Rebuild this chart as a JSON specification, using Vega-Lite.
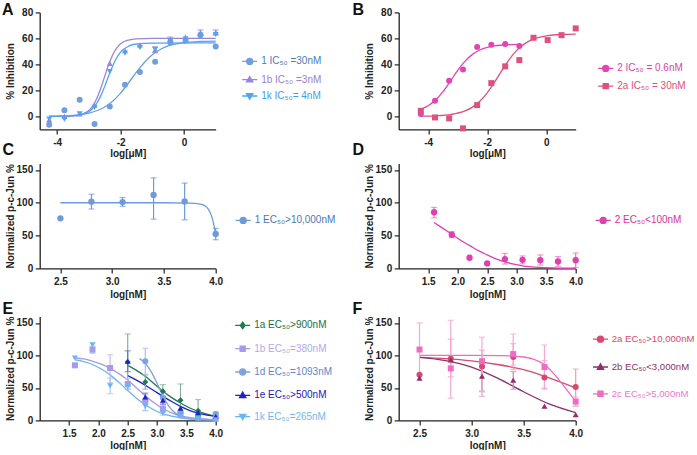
{
"$schema": "https://vega.github.io/schema/vega-lite/v6.json",
"padding": {"left": 1.7, "top": 1.4, "right": 0, "bottom": 0},
"config": {
 "font": "Liberation Sans",
 "view": {"stroke": null},
 "axis": {"grid": false, "domainColor": "#222", "domainWidth": 1.3, "tickColor": "#222", "tickWidth": 1.2, "tickSize": 4.5, "labelFont": "Liberation Sans", "labelFontSize": 10, "labelFontWeight": "bold", "labelColor": "#222", "titleFont": "Liberation Sans", "titleFontSize": 10, "titleFontWeight": "bold", "titleColor": "#222", "labelPadding": 2.5, "labelFlush": false, "labelOverlap": false},
 "axisX": {"labelPadding": 4},
 "legend": {"padding": 0, "labelOffset": 6.5, "symbolSize": 36, "symbolStrokeWidth": 1.3, "labelFont": "Liberation Sans", "labelFontSize": 10, "orient": "none"},
 "title": {"anchor": "start", "frame": "group", "fontSize": 16, "fontWeight": "bold", "font": "Liberation Sans", "offset": 0, "baseline": "alphabetic", "color": "#111"}
},
"datasets": {
 "A_pts": [
  {"x": -4.25, "y": -6.5, "s": "1 IC₅₀ =30nM", "sh": "a"}, {"x": -3.77, "y": 4.8, "s": "1 IC₅₀ =30nM", "sh": "a"}, {"x": -3.29, "y": 12.8, "s": "1 IC₅₀ =30nM", "sh": "a"}, {"x": -2.82, "y": -5.9, "s": "1 IC₅₀ =30nM", "sh": "a"}, {"x": -2.34, "y": 7.7, "s": "1 IC₅₀ =30nM", "sh": "a"}, {"x": -1.86, "y": 24.3, "s": "1 IC₅₀ =30nM", "sh": "a"}, {"x": -1.39, "y": 34.1, "s": "1 IC₅₀ =30nM", "sh": "a"}, {"x": -0.91, "y": 42, "s": "1 IC₅₀ =30nM", "sh": "a"}, {"x": -0.43, "y": 56.9, "s": "1 IC₅₀ =30nM", "sh": "a"}, {"x": 0.05, "y": 58.2, "s": "1 IC₅₀ =30nM", "sh": "a"}, {"x": 0.52, "y": 62.5, "s": "1 IC₅₀ =30nM", "sh": "a"}, {"x": 1.0, "y": 53.8, "s": "1 IC₅₀ =30nM", "sh": "a"},
  {"x": -4.25, "y": -2.6, "s": "1b IC₅₀ =3nM", "sh": "b"}, {"x": -3.77, "y": 0, "s": "1b IC₅₀ =3nM", "sh": "b"}, {"x": -3.29, "y": 2, "s": "1b IC₅₀ =3nM", "sh": "b"}, {"x": -2.82, "y": 8.7, "s": "1b IC₅₀ =3nM", "sh": "b"}, {"x": -2.34, "y": 40.8, "s": "1b IC₅₀ =3nM", "sh": "b"}, {"x": -1.86, "y": 50.5, "s": "1b IC₅₀ =3nM", "sh": "b"}, {"x": -1.39, "y": 55, "s": "1b IC₅₀ =3nM", "sh": "b"}, {"x": -0.91, "y": 51.2, "s": "1b IC₅₀ =3nM", "sh": "b"}, {"x": -0.43, "y": 59.5, "s": "1b IC₅₀ =3nM", "sh": "b"}, {"x": 0.05, "y": 61, "s": "1b IC₅₀ =3nM", "sh": "b"}, {"x": 0.52, "y": 64.5, "s": "1b IC₅₀ =3nM", "sh": "b"}, {"x": 1.0, "y": 64.6, "s": "1b IC₅₀ =3nM", "sh": "b"},
  {"x": -4.25, "y": -2, "s": "1k IC₅₀= 4nM", "sh": "c"}, {"x": -3.77, "y": -2.2, "s": "1k IC₅₀= 4nM", "sh": "c"}, {"x": -3.29, "y": 2, "s": "1k IC₅₀= 4nM", "sh": "c"}, {"x": -2.82, "y": 7, "s": "1k IC₅₀= 4nM", "sh": "c"}, {"x": -2.34, "y": 34.4, "s": "1k IC₅₀= 4nM", "sh": "c"}, {"x": -1.86, "y": 48.7, "s": "1k IC₅₀= 4nM", "sh": "c"}, {"x": -1.39, "y": 53, "s": "1k IC₅₀= 4nM", "sh": "c"}, {"x": -0.91, "y": 51.5, "s": "1k IC₅₀= 4nM", "sh": "c"}, {"x": -0.43, "y": 58, "s": "1k IC₅₀= 4nM", "sh": "c"}, {"x": 0.05, "y": 59.5, "s": "1k IC₅₀= 4nM", "sh": "c"}, {"x": 0.52, "y": 62.5, "s": "1k IC₅₀= 4nM", "sh": "c"}, {"x": 1.0, "y": 63, "s": "1k IC₅₀= 4nM", "sh": "c"}
 ],
 "A_curve": [
  {"x": -4.25, "y": 0.15, "s": "1 IC₅₀ =30nM"}, {"x": -4, "y": 0.26, "s": "1 IC₅₀ =30nM"}, {"x": -3.5, "y": 0.81, "s": "1 IC₅₀ =30nM"}, {"x": -3, "y": 2.48, "s": "1 IC₅₀ =30nM"}, {"x": -2.5, "y": 7.19, "s": "1 IC₅₀ =30nM"}, {"x": -2.25, "y": 11.6, "s": "1 IC₅₀ =30nM"}, {"x": -2, "y": 17.9, "s": "1 IC₅₀ =30nM"}, {"x": -1.75, "y": 25.7, "s": "1 IC₅₀ =30nM"}, {"x": -1.5, "y": 34, "s": "1 IC₅₀ =30nM"}, {"x": -1.25, "y": 41.5, "s": "1 IC₅₀ =30nM"}, {"x": -1, "y": 47.4, "s": "1 IC₅₀ =30nM"}, {"x": -0.75, "y": 51.5, "s": "1 IC₅₀ =30nM"}, {"x": -0.5, "y": 54.2, "s": "1 IC₅₀ =30nM"}, {"x": 0, "y": 56.7, "s": "1 IC₅₀ =30nM"}, {"x": 0.5, "y": 57.6, "s": "1 IC₅₀ =30nM"}, {"x": 1, "y": 57.9, "s": "1 IC₅₀ =30nM"},
  {"x": -4.25, "y": 0, "s": "1b IC₅₀ =3nM"}, {"x": -3.75, "y": 0.11, "s": "1b IC₅₀ =3nM"}, {"x": -3.5, "y": 0.39, "s": "1b IC₅₀ =3nM"}, {"x": -3.25, "y": 1.38, "s": "1b IC₅₀ =3nM"}, {"x": -3, "y": 4.63, "s": "1b IC₅₀ =3nM"}, {"x": -2.875, "y": 8.16, "s": "1b IC₅₀ =3nM"}, {"x": -2.75, "y": 13.7, "s": "1b IC₅₀ =3nM"}, {"x": -2.625, "y": 21.5, "s": "1b IC₅₀ =3nM"}, {"x": -2.5, "y": 30.8, "s": "1b IC₅₀ =3nM"}, {"x": -2.375, "y": 39.9, "s": "1b IC₅₀ =3nM"}, {"x": -2.25, "y": 47.3, "s": "1b IC₅₀ =3nM"}, {"x": -2.125, "y": 52.5, "s": "1b IC₅₀ =3nM"}, {"x": -2, "y": 55.8, "s": "1b IC₅₀ =3nM"}, {"x": -1.75, "y": 58.7, "s": "1b IC₅₀ =3nM"}, {"x": -1.5, "y": 59.6, "s": "1b IC₅₀ =3nM"}, {"x": -1, "y": 60, "s": "1b IC₅₀ =3nM"}, {"x": 1, "y": 60, "s": "1b IC₅₀ =3nM"},
  {"x": -4.25, "y": 0, "s": "1k IC₅₀= 4nM"}, {"x": -3.5, "y": 0.39, "s": "1k IC₅₀= 4nM"}, {"x": -3.25, "y": 1.21, "s": "1k IC₅₀= 4nM"}, {"x": -3, "y": 3.66, "s": "1k IC₅₀= 4nM"}, {"x": -2.875, "y": 6.19, "s": "1k IC₅₀= 4nM"}, {"x": -2.75, "y": 10.1, "s": "1k IC₅₀= 4nM"}, {"x": -2.625, "y": 15.8, "s": "1k IC₅₀= 4nM"}, {"x": -2.5, "y": 23.1, "s": "1k IC₅₀= 4nM"}, {"x": -2.375, "y": 31.2, "s": "1k IC₅₀= 4nM"}, {"x": -2.25, "y": 38.8, "s": "1k IC₅₀= 4nM"}, {"x": -2.125, "y": 44.9, "s": "1k IC₅₀= 4nM"}, {"x": -2, "y": 49.4, "s": "1k IC₅₀= 4nM"}, {"x": -1.75, "y": 54, "s": "1k IC₅₀= 4nM"}, {"x": -1.5, "y": 55.7, "s": "1k IC₅₀= 4nM"}, {"x": -1, "y": 56.4, "s": "1k IC₅₀= 4nM"}, {"x": 1, "y": 56.5, "s": "1k IC₅₀= 4nM"}
 ],
 "A_err": [
  {"x": -0.91, "y": 49, "y2": 53.5, "s": "1b IC₅₀ =3nM"}, {"x": -0.43, "y": 58, "y2": 61, "s": "1b IC₅₀ =3nM"}, {"x": 0.52, "y": 62.5, "y2": 66.5, "s": "1b IC₅₀ =3nM"}, {"x": 1.0, "y": 62.5, "y2": 66.5, "s": "1b IC₅₀ =3nM"}
 ],
 "B_pts": [
  {"x": -4.25, "y": 1.8, "s": "2 IC₅₀ = 0.6nM", "sh": "a"}, {"x": -3.77, "y": 12, "s": "2 IC₅₀ = 0.6nM", "sh": "a"}, {"x": -3.29, "y": 27.4, "s": "2 IC₅₀ = 0.6nM", "sh": "a"}, {"x": -2.82, "y": 36.1, "s": "2 IC₅₀ = 0.6nM", "sh": "a"}, {"x": -2.34, "y": 53.3, "s": "2 IC₅₀ = 0.6nM", "sh": "a"}, {"x": -1.86, "y": 55.2, "s": "2 IC₅₀ = 0.6nM", "sh": "a"}, {"x": -1.39, "y": 55.6, "s": "2 IC₅₀ = 0.6nM", "sh": "a"}, {"x": -0.91, "y": 54.1, "s": "2 IC₅₀ = 0.6nM", "sh": "a"},
  {"x": -4.25, "y": 4.3, "s": "2a IC₅₀ = 30nM", "sh": "b"}, {"x": -3.77, "y": -0.8, "s": "2a IC₅₀ = 30nM", "sh": "b"}, {"x": -3.29, "y": -1.5, "s": "2a IC₅₀ = 30nM", "sh": "b"}, {"x": -2.82, "y": -9.2, "s": "2a IC₅₀ = 30nM", "sh": "b"}, {"x": -2.34, "y": 8.7, "s": "2a IC₅₀ = 30nM", "sh": "b"}, {"x": -1.86, "y": 25.6, "s": "2a IC₅₀ = 30nM", "sh": "b"}, {"x": -1.39, "y": 38.5, "s": "2a IC₅₀ = 30nM", "sh": "b"}, {"x": -0.91, "y": 43.3, "s": "2a IC₅₀ = 30nM", "sh": "b"}, {"x": -0.43, "y": 60.5, "s": "2a IC₅₀ = 30nM", "sh": "b"}, {"x": 0.05, "y": 58.7, "s": "2a IC₅₀ = 30nM", "sh": "b"}, {"x": 0.52, "y": 62.5, "s": "2a IC₅₀ = 30nM", "sh": "b"}, {"x": 1.0, "y": 67.7, "s": "2a IC₅₀ = 30nM", "sh": "b"}
 ],
 "B_curve": [
  {"x": -4.25, "y": 5.5, "s": "2 IC₅₀ = 0.6nM"}, {"x": -4, "y": 8.2, "s": "2 IC₅₀ = 0.6nM"}, {"x": -3.75, "y": 12.6, "s": "2 IC₅₀ = 0.6nM"}, {"x": -3.5, "y": 19, "s": "2 IC₅₀ = 0.6nM"}, {"x": -3.25, "y": 27.1, "s": "2 IC₅₀ = 0.6nM"}, {"x": -3, "y": 35.4, "s": "2 IC₅₀ = 0.6nM"}, {"x": -2.75, "y": 42.5, "s": "2 IC₅₀ = 0.6nM"}, {"x": -2.5, "y": 47.7, "s": "2 IC₅₀ = 0.6nM"}, {"x": -2.25, "y": 51.1, "s": "2 IC₅₀ = 0.6nM"}, {"x": -2, "y": 53.1, "s": "2 IC₅₀ = 0.6nM"}, {"x": -1.75, "y": 54.2, "s": "2 IC₅₀ = 0.6nM"}, {"x": -1.5, "y": 54.8, "s": "2 IC₅₀ = 0.6nM"}, {"x": -1.25, "y": 55.2, "s": "2 IC₅₀ = 0.6nM"}, {"x": -0.9, "y": 55.4, "s": "2 IC₅₀ = 0.6nM"},
  {"x": -4.25, "y": 0.14, "s": "2a IC₅₀ = 30nM"}, {"x": -3.75, "y": 0.45, "s": "2a IC₅₀ = 30nM"}, {"x": -3.25, "y": 1.39, "s": "2a IC₅₀ = 30nM"}, {"x": -2.75, "y": 4.2, "s": "2a IC₅₀ = 30nM"}, {"x": -2.5, "y": 7.1, "s": "2a IC₅₀ = 30nM"}, {"x": -2.25, "y": 11.6, "s": "2a IC₅₀ = 30nM"}, {"x": -2, "y": 18.1, "s": "2a IC₅₀ = 30nM"}, {"x": -1.75, "y": 26.3, "s": "2a IC₅₀ = 30nM"}, {"x": -1.5, "y": 35.4, "s": "2a IC₅₀ = 30nM"}, {"x": -1.25, "y": 43.9, "s": "2a IC₅₀ = 30nM"}, {"x": -1, "y": 50.8, "s": "2a IC₅₀ = 30nM"}, {"x": -0.75, "y": 55.6, "s": "2a IC₅₀ = 30nM"}, {"x": -0.5, "y": 58.8, "s": "2a IC₅₀ = 30nM"}, {"x": -0.25, "y": 60.8, "s": "2a IC₅₀ = 30nM"}, {"x": 0, "y": 61.9, "s": "2a IC₅₀ = 30nM"}, {"x": 0.5, "y": 63, "s": "2a IC₅₀ = 30nM"}, {"x": 1, "y": 63.3, "s": "2a IC₅₀ = 30nM"}
 ],
 "C_pts": [
  {"x": 2.5, "y": 76.3, "s": "1 EC₅₀>10,000nM"}, {"x": 2.8, "y": 101.7, "s": "1 EC₅₀>10,000nM"}, {"x": 3.1, "y": 101, "s": "1 EC₅₀>10,000nM"}, {"x": 3.4, "y": 112, "s": "1 EC₅₀>10,000nM"}, {"x": 3.7, "y": 102, "s": "1 EC₅₀>10,000nM"}, {"x": 4.0, "y": 52.4, "s": "1 EC₅₀>10,000nM"}
 ],
 "C_err": [
  {"x": 2.8, "y": 90.5, "y2": 113, "s": "1 EC₅₀>10,000nM"}, {"x": 3.1, "y": 94.6, "y2": 108, "s": "1 EC₅₀>10,000nM"}, {"x": 3.4, "y": 75, "y2": 138, "s": "1 EC₅₀>10,000nM"}, {"x": 3.7, "y": 74, "y2": 130, "s": "1 EC₅₀>10,000nM"}, {"x": 4.0, "y": 43.7, "y2": 61, "s": "1 EC₅₀>10,000nM"}
 ],
 "C_curve": [
  {"x": 2.5, "y": 100, "s": "1 EC₅₀>10,000nM"}, {"x": 3.0, "y": 100, "s": "1 EC₅₀>10,000nM"}, {"x": 3.5, "y": 100, "s": "1 EC₅₀>10,000nM"}, {"x": 3.75, "y": 99.6, "s": "1 EC₅₀>10,000nM"}, {"x": 3.85, "y": 98, "s": "1 EC₅₀>10,000nM"}, {"x": 3.9, "y": 95, "s": "1 EC₅₀>10,000nM"}, {"x": 3.93, "y": 90, "s": "1 EC₅₀>10,000nM"}, {"x": 3.96, "y": 80, "s": "1 EC₅₀>10,000nM"}, {"x": 3.98, "y": 68, "s": "1 EC₅₀>10,000nM"}, {"x": 4.0, "y": 52, "s": "1 EC₅₀>10,000nM"}
 ],
 "D_pts": [
  {"x": 1.6, "y": 85.5, "s": "2 EC₅₀<100nM"}, {"x": 1.9, "y": 51.3, "s": "2 EC₅₀<100nM"}, {"x": 2.2, "y": 16.2, "s": "2 EC₅₀<100nM"}, {"x": 2.5, "y": 7.6, "s": "2 EC₅₀<100nM"}, {"x": 2.8, "y": 14.2, "s": "2 EC₅₀<100nM"}, {"x": 3.1, "y": 13, "s": "2 EC₅₀<100nM"}, {"x": 3.4, "y": 12.5, "s": "2 EC₅₀<100nM"}, {"x": 3.7, "y": 10.5, "s": "2 EC₅₀<100nM"}, {"x": 4.0, "y": 12.5, "s": "2 EC₅₀<100nM"}
 ],
 "D_err": [
  {"x": 1.6, "y": 77, "y2": 93, "s": "2 EC₅₀<100nM"}, {"x": 1.9, "y": 47, "y2": 56, "s": "2 EC₅₀<100nM"}, {"x": 2.8, "y": 6.6, "y2": 22.9, "s": "2 EC₅₀<100nM"}, {"x": 3.1, "y": 7, "y2": 19, "s": "2 EC₅₀<100nM"}, {"x": 3.4, "y": 5, "y2": 20.5, "s": "2 EC₅₀<100nM"}, {"x": 3.7, "y": 3, "y2": 18, "s": "2 EC₅₀<100nM"}, {"x": 4.0, "y": 1.5, "y2": 23.5, "s": "2 EC₅₀<100nM"}
 ],
 "D_curve": [
  {"x": 1.6, "y": 70, "s": "2 EC₅₀<100nM"}, {"x": 1.75, "y": 61, "s": "2 EC₅₀<100nM"}, {"x": 1.9, "y": 52, "s": "2 EC₅₀<100nM"}, {"x": 2.05, "y": 43, "s": "2 EC₅₀<100nM"}, {"x": 2.2, "y": 35, "s": "2 EC₅₀<100nM"}, {"x": 2.35, "y": 27, "s": "2 EC₅₀<100nM"}, {"x": 2.5, "y": 20.5, "s": "2 EC₅₀<100nM"}, {"x": 2.65, "y": 14.5, "s": "2 EC₅₀<100nM"}, {"x": 2.8, "y": 10, "s": "2 EC₅₀<100nM"}, {"x": 2.95, "y": 6.5, "s": "2 EC₅₀<100nM"}, {"x": 3.1, "y": 4, "s": "2 EC₅₀<100nM"}, {"x": 3.4, "y": 1.5, "s": "2 EC₅₀<100nM"}, {"x": 3.7, "y": 0.5, "s": "2 EC₅₀<100nM"}, {"x": 4.0, "y": 0.2, "s": "2 EC₅₀<100nM"}
 ],
 "E_pts": [
  {"x": 2.5, "y": 90, "s": "1a EC₅₀>900nM", "sh": "a"}, {"x": 2.8, "y": 59, "s": "1a EC₅₀>900nM", "sh": "a"}, {"x": 3.1, "y": 45, "s": "1a EC₅₀>900nM", "sh": "a"}, {"x": 3.4, "y": 31, "s": "1a EC₅₀>900nM", "sh": "a"}, {"x": 3.7, "y": 15, "s": "1a EC₅₀>900nM", "sh": "a"}, {"x": 4.0, "y": 8, "s": "1a EC₅₀>900nM", "sh": "a"},
  {"x": 1.6, "y": 84.7, "s": "1b EC₅₀=380nM", "sh": "b"}, {"x": 1.9, "y": 108.8, "s": "1b EC₅₀=380nM", "sh": "b"}, {"x": 2.2, "y": 80.6, "s": "1b EC₅₀=380nM", "sh": "b"}, {"x": 2.5, "y": 56, "s": "1b EC₅₀=380nM", "sh": "b"}, {"x": 2.8, "y": 29.3, "s": "1b EC₅₀=380nM", "sh": "b"}, {"x": 3.1, "y": 17.9, "s": "1b EC₅₀=380nM", "sh": "b"}, {"x": 3.4, "y": 8.7, "s": "1b EC₅₀=380nM", "sh": "b"}, {"x": 3.7, "y": 6, "s": "1b EC₅₀=380nM", "sh": "b"}, {"x": 4.0, "y": 2.5, "s": "1b EC₅₀=380nM", "sh": "b"},
  {"x": 2.8, "y": 91, "s": "1d EC₅₀=1093nM", "sh": "c"}, {"x": 3.1, "y": 35, "s": "1d EC₅₀=1093nM", "sh": "c"}, {"x": 3.4, "y": 12, "s": "1d EC₅₀=1093nM", "sh": "c"}, {"x": 3.7, "y": 6, "s": "1d EC₅₀=1093nM", "sh": "c"}, {"x": 4.0, "y": 10, "s": "1d EC₅₀=1093nM", "sh": "c"},
  {"x": 2.5, "y": 91, "s": "1e EC₅₀>500nM", "sh": "d"}, {"x": 2.8, "y": 36, "s": "1e EC₅₀>500nM", "sh": "d"}, {"x": 3.1, "y": 31, "s": "1e EC₅₀>500nM", "sh": "d"}, {"x": 3.4, "y": 19, "s": "1e EC₅₀>500nM", "sh": "d"}, {"x": 3.7, "y": 12, "s": "1e EC₅₀>500nM", "sh": "d"}, {"x": 4.0, "y": 6, "s": "1e EC₅₀>500nM", "sh": "d"},
  {"x": 1.6, "y": 96, "s": "1k EC₅₀=265nM", "sh": "e"}, {"x": 1.9, "y": 116, "s": "1k EC₅₀=265nM", "sh": "e"}, {"x": 2.2, "y": 53, "s": "1k EC₅₀=265nM", "sh": "e"}, {"x": 2.5, "y": 52, "s": "1k EC₅₀=265nM", "sh": "e"}, {"x": 2.8, "y": 21.6, "s": "1k EC₅₀=265nM", "sh": "e"}, {"x": 3.1, "y": 11.2, "s": "1k EC₅₀=265nM", "sh": "e"}, {"x": 3.4, "y": 6, "s": "1k EC₅₀=265nM", "sh": "e"}, {"x": 3.7, "y": 2.6, "s": "1k EC₅₀=265nM", "sh": "e"}, {"x": 4.0, "y": 1, "s": "1k EC₅₀=265nM", "sh": "e"}
 ],
 "E_err": [
  {"x": 2.5, "y": 48, "y2": 133, "s": "1a EC₅₀>900nM"}, {"x": 2.8, "y": 48, "y2": 70, "s": "1a EC₅₀>900nM"}, {"x": 3.1, "y": 35, "y2": 55, "s": "1a EC₅₀>900nM"}, {"x": 3.4, "y": 6, "y2": 56, "s": "1a EC₅₀>900nM"}, {"x": 3.7, "y": 0, "y2": 32, "s": "1a EC₅₀>900nM"}, {"x": 4.0, "y": 4, "y2": 12, "s": "1a EC₅₀>900nM"},
  {"x": 1.6, "y": 82, "y2": 87, "s": "1b EC₅₀=380nM"}, {"x": 1.9, "y": 103, "y2": 114, "s": "1b EC₅₀=380nM"}, {"x": 2.2, "y": 58, "y2": 101, "s": "1b EC₅₀=380nM"}, {"x": 2.5, "y": 48, "y2": 64, "s": "1b EC₅₀=380nM"}, {"x": 2.8, "y": 15, "y2": 40, "s": "1b EC₅₀=380nM"}, {"x": 3.1, "y": 12, "y2": 24, "s": "1b EC₅₀=380nM"}, {"x": 3.4, "y": 4, "y2": 13, "s": "1b EC₅₀=380nM"},
  {"x": 2.8, "y": 70, "y2": 111, "s": "1d EC₅₀=1093nM"}, {"x": 3.1, "y": 25, "y2": 45, "s": "1d EC₅₀=1093nM"}, {"x": 4.0, "y": 6, "y2": 13, "s": "1d EC₅₀=1093nM"},
  {"x": 2.5, "y": 75, "y2": 107, "s": "1e EC₅₀>500nM"}, {"x": 2.8, "y": 30, "y2": 42, "s": "1e EC₅₀>500nM"}, {"x": 3.1, "y": 25, "y2": 37, "s": "1e EC₅₀>500nM"},
  {"x": 1.9, "y": 112, "y2": 120, "s": "1k EC₅₀=265nM"}, {"x": 2.2, "y": 41, "y2": 65, "s": "1k EC₅₀=265nM"}, {"x": 2.8, "y": 15, "y2": 28, "s": "1k EC₅₀=265nM"}, {"x": 3.1, "y": 8, "y2": 15, "s": "1k EC₅₀=265nM"}
 ],
 "E_curve": [
  {"x": 2.5, "y": 84.7, "s": "1a EC₅₀>900nM"}, {"x": 2.65, "y": 77, "s": "1a EC₅₀>900nM"}, {"x": 2.8, "y": 67.8, "s": "1a EC₅₀>900nM"}, {"x": 2.95, "y": 56.5, "s": "1a EC₅₀>900nM"}, {"x": 3.1, "y": 44.7, "s": "1a EC₅₀>900nM"}, {"x": 3.25, "y": 35, "s": "1a EC₅₀>900nM"}, {"x": 3.4, "y": 26.7, "s": "1a EC₅₀>900nM"}, {"x": 3.55, "y": 19.5, "s": "1a EC₅₀>900nM"}, {"x": 3.7, "y": 13.9, "s": "1a EC₅₀>900nM"}, {"x": 3.85, "y": 9.5, "s": "1a EC₅₀>900nM"}, {"x": 4.0, "y": 6.5, "s": "1a EC₅₀>900nM"},
  {"x": 1.6, "y": 96, "s": "1b EC₅₀=380nM"}, {"x": 1.75, "y": 94.5, "s": "1b EC₅₀=380nM"}, {"x": 1.9, "y": 91, "s": "1b EC₅₀=380nM"}, {"x": 2.05, "y": 86.5, "s": "1b EC₅₀=380nM"}, {"x": 2.2, "y": 80, "s": "1b EC₅₀=380nM"}, {"x": 2.35, "y": 72, "s": "1b EC₅₀=380nM"}, {"x": 2.5, "y": 62, "s": "1b EC₅₀=380nM"}, {"x": 2.65, "y": 50, "s": "1b EC₅₀=380nM"}, {"x": 2.8, "y": 38, "s": "1b EC₅₀=380nM"}, {"x": 2.95, "y": 27, "s": "1b EC₅₀=380nM"}, {"x": 3.1, "y": 18, "s": "1b EC₅₀=380nM"}, {"x": 3.25, "y": 11.5, "s": "1b EC₅₀=380nM"}, {"x": 3.4, "y": 7, "s": "1b EC₅₀=380nM"}, {"x": 3.55, "y": 4.5, "s": "1b EC₅₀=380nM"}, {"x": 3.7, "y": 3, "s": "1b EC₅₀=380nM"}, {"x": 4.0, "y": 1, "s": "1b EC₅₀=380nM"},
  {"x": 2.7, "y": 95, "s": "1d EC₅₀=1093nM"}, {"x": 2.8, "y": 88, "s": "1d EC₅₀=1093nM"}, {"x": 2.9, "y": 75, "s": "1d EC₅₀=1093nM"}, {"x": 3.0, "y": 57, "s": "1d EC₅₀=1093nM"}, {"x": 3.1, "y": 38, "s": "1d EC₅₀=1093nM"}, {"x": 3.2, "y": 22, "s": "1d EC₅₀=1093nM"}, {"x": 3.3, "y": 12, "s": "1d EC₅₀=1093nM"}, {"x": 3.4, "y": 6, "s": "1d EC₅₀=1093nM"}, {"x": 3.5, "y": 3.5, "s": "1d EC₅₀=1093nM"}, {"x": 3.7, "y": 1.5, "s": "1d EC₅₀=1093nM"}, {"x": 4.0, "y": 0.7, "s": "1d EC₅₀=1093nM"},
  {"x": 2.5, "y": 69, "s": "1e EC₅₀>500nM"}, {"x": 2.65, "y": 62, "s": "1e EC₅₀>500nM"}, {"x": 2.8, "y": 54, "s": "1e EC₅₀>500nM"}, {"x": 2.95, "y": 45.5, "s": "1e EC₅₀>500nM"}, {"x": 3.1, "y": 37, "s": "1e EC₅₀>500nM"}, {"x": 3.25, "y": 29, "s": "1e EC₅₀>500nM"}, {"x": 3.4, "y": 21.6, "s": "1e EC₅₀>500nM"}, {"x": 3.55, "y": 15.5, "s": "1e EC₅₀>500nM"}, {"x": 3.7, "y": 11, "s": "1e EC₅₀>500nM"}, {"x": 3.85, "y": 8, "s": "1e EC₅₀>500nM"}, {"x": 4.0, "y": 6, "s": "1e EC₅₀>500nM"},
  {"x": 1.6, "y": 93, "s": "1k EC₅₀=265nM"}, {"x": 1.75, "y": 90.5, "s": "1k EC₅₀=265nM"}, {"x": 1.9, "y": 86, "s": "1k EC₅₀=265nM"}, {"x": 2.05, "y": 79, "s": "1k EC₅₀=265nM"}, {"x": 2.2, "y": 70, "s": "1k EC₅₀=265nM"}, {"x": 2.35, "y": 58.5, "s": "1k EC₅₀=265nM"}, {"x": 2.5, "y": 46, "s": "1k EC₅₀=265nM"}, {"x": 2.65, "y": 34, "s": "1k EC₅₀=265nM"}, {"x": 2.8, "y": 24, "s": "1k EC₅₀=265nM"}, {"x": 2.95, "y": 16, "s": "1k EC₅₀=265nM"}, {"x": 3.1, "y": 10, "s": "1k EC₅₀=265nM"}, {"x": 3.25, "y": 6.5, "s": "1k EC₅₀=265nM"}, {"x": 3.4, "y": 4, "s": "1k EC₅₀=265nM"}, {"x": 3.7, "y": 1.5, "s": "1k EC₅₀=265nM"}, {"x": 4.0, "y": 0.5, "s": "1k EC₅₀=265nM"}
 ],
 "F_pts": [
  {"x": 2.5, "y": 70.3, "s": "2a EC₅₀>10,000nM", "sh": "a"}, {"x": 2.8, "y": 95, "s": "2a EC₅₀>10,000nM", "sh": "a"}, {"x": 3.1, "y": 83, "s": "2a EC₅₀>10,000nM", "sh": "a"}, {"x": 3.4, "y": 97.5, "s": "2a EC₅₀>10,000nM", "sh": "a"}, {"x": 3.7, "y": 66, "s": "2a EC₅₀>10,000nM", "sh": "a"}, {"x": 4.0, "y": 51.3, "s": "2a EC₅₀>10,000nM", "sh": "a"},
  {"x": 2.5, "y": 65, "s": "2b EC₅₀<3,000nM", "sh": "b"}, {"x": 2.8, "y": 93, "s": "2b EC₅₀<3,000nM", "sh": "b"}, {"x": 3.1, "y": 68, "s": "2b EC₅₀<3,000nM", "sh": "b"}, {"x": 3.4, "y": 62, "s": "2b EC₅₀<3,000nM", "sh": "b"}, {"x": 3.7, "y": 22, "s": "2b EC₅₀<3,000nM", "sh": "b"}, {"x": 4.0, "y": 9, "s": "2b EC₅₀<3,000nM", "sh": "b"},
  {"x": 2.5, "y": 109, "s": "2c EC₅₀>5,000nM", "sh": "c"}, {"x": 2.8, "y": 80, "s": "2c EC₅₀>5,000nM", "sh": "c"}, {"x": 3.1, "y": 91, "s": "2c EC₅₀>5,000nM", "sh": "c"}, {"x": 3.4, "y": 102, "s": "2c EC₅₀>5,000nM", "sh": "c"}, {"x": 3.7, "y": 82, "s": "2c EC₅₀>5,000nM", "sh": "c"}, {"x": 4.0, "y": 29, "s": "2c EC₅₀>5,000nM", "sh": "c"}
 ],
 "F_err": [
  {"x": 2.8, "y": 67, "y2": 125, "s": "2a EC₅₀>10,000nM"}, {"x": 3.1, "y": 37, "y2": 108, "s": "2a EC₅₀>10,000nM"}, {"x": 3.4, "y": 78, "y2": 118, "s": "2a EC₅₀>10,000nM"}, {"x": 3.7, "y": 48, "y2": 92, "s": "2a EC₅₀>10,000nM"}, {"x": 4.0, "y": 22, "y2": 79, "s": "2a EC₅₀>10,000nM"},
  {"x": 3.1, "y": 45, "y2": 90, "s": "2b EC₅₀<3,000nM"}, {"x": 3.4, "y": 48, "y2": 75, "s": "2b EC₅₀<3,000nM"},
  {"x": 2.5, "y": 70, "y2": 150, "s": "2c EC₅₀>5,000nM"}, {"x": 2.8, "y": 34, "y2": 154, "s": "2c EC₅₀>5,000nM"}, {"x": 3.1, "y": 44, "y2": 128, "s": "2c EC₅₀>5,000nM"}, {"x": 3.4, "y": 85, "y2": 133, "s": "2c EC₅₀>5,000nM"}, {"x": 3.7, "y": 50, "y2": 116, "s": "2c EC₅₀>5,000nM"}, {"x": 4.0, "y": 22, "y2": 36, "s": "2c EC₅₀>5,000nM"}
 ],
 "F_curve": [
  {"x": 2.5, "y": 97, "s": "2a EC₅₀>10,000nM"}, {"x": 2.75, "y": 95, "s": "2a EC₅₀>10,000nM"}, {"x": 3.0, "y": 91.5, "s": "2a EC₅₀>10,000nM"}, {"x": 3.25, "y": 86, "s": "2a EC₅₀>10,000nM"}, {"x": 3.5, "y": 78, "s": "2a EC₅₀>10,000nM"}, {"x": 3.75, "y": 65, "s": "2a EC₅₀>10,000nM"}, {"x": 4.0, "y": 50, "s": "2a EC₅₀>10,000nM"},
  {"x": 2.5, "y": 97, "s": "2b EC₅₀<3,000nM"}, {"x": 2.75, "y": 92, "s": "2b EC₅₀<3,000nM"}, {"x": 3.0, "y": 82, "s": "2b EC₅₀<3,000nM"}, {"x": 3.25, "y": 65, "s": "2b EC₅₀<3,000nM"}, {"x": 3.5, "y": 44, "s": "2b EC₅₀<3,000nM"}, {"x": 3.75, "y": 25, "s": "2b EC₅₀<3,000nM"}, {"x": 4.0, "y": 12, "s": "2b EC₅₀<3,000nM"},
  {"x": 2.5, "y": 100, "s": "2c EC₅₀>5,000nM"}, {"x": 3.0, "y": 100, "s": "2c EC₅₀>5,000nM"}, {"x": 3.3, "y": 99.5, "s": "2c EC₅₀>5,000nM"}, {"x": 3.5, "y": 97.5, "s": "2c EC₅₀>5,000nM"}, {"x": 3.6, "y": 94, "s": "2c EC₅₀>5,000nM"}, {"x": 3.7, "y": 86, "s": "2c EC₅₀>5,000nM"}, {"x": 3.8, "y": 70, "s": "2c EC₅₀>5,000nM"}, {"x": 3.9, "y": 50, "s": "2c EC₅₀>5,000nM"}, {"x": 4.0, "y": 29, "s": "2c EC₅₀>5,000nM"}
 ],
 "zero": [{"y": 0}],
 "blank": [{"k": 0}]
},
"concat": [
  {"width": 176, "height": 117, "title": {"text": "A", "dx": -37.6, "dy": 14.4},
   "encoding": {
    "x": {"field": "x", "type": "quantitative", "scale": {"domain": [-4.55, 1], "nice": false, "zero": false}, "axis": {"values": [-4, -2, 0], "labelExpr": "'' + datum.value", "title": "log[μM]", "titleY": 19}},
    "y": {"field": "y", "type": "quantitative", "scale": {"domain": [-10, 80], "nice": false, "zero": false}, "axis": {"values": [0, 20, 40, 60, 80], "title": "% Inhibition", "titleX": -24}},
    "color": {"field": "s", "type": "nominal", "scale": {"domain": ["1 IC₅₀ =30nM", "1b IC₅₀ =3nM", "1k IC₅₀= 4nM"], "range": ["#6f9fdc", "#9b84dc", "#4ea6f2"]},
     "legend": {"title": null, "legendX": 205, "legendY": 44, "rowPadding": 6.3,
      "encode": {"symbols": {"update": {"shape": {"signal": "['M-2.5,0L-1,0M1,0L2.5,0M-1,0A1,1 0 1,0 1,0A1,1 0 1,0 -1,0Z','M-2.5,0L2.5,0M0,-1.05L1.05,0.75L-1.05,0.75Z','M-2.5,0L2.5,0M0,1.05L1.05,-0.75L-1.05,-0.75Z'][datum.index]"}, "fill": {"signal": "['#6f9fdc','#9b84dc','#4ea6f2'][datum.index]"}, "stroke": {"signal": "['#6f9fdc','#9b84dc','#4ea6f2'][datum.index]"}, "opacity": {"value": 1}}},
       "labels": {"update": {"fill": {"signal": "['#4a7cc0','#9a7fd6','#3f9cf0'][datum.index]"}}}}}}
   },
   "layer": [
    {"data": {"name": "A_curve"}, "mark": {"type": "line", "interpolate": "monotone", "strokeWidth": 1.3}},
    {"data": {"name": "A_err"}, "mark": {"type": "errorbar", "ticks": {"size": 6}, "thickness": 1.2}, "encoding": {"y2": {"field": "y2"}}},
    {"data": {"name": "A_pts"}, "mark": {"type": "point", "filled": true, "size": 36, "opacity": 1}, "encoding": {"shape": {"field": "sh", "type": "nominal", "scale": {"domain": ["a", "b", "c"], "range": ["circle", "triangle-up", "triangle-down"]}, "legend": null}}}
   ]
  },
  {"width": 177, "height": 117, "title": {"text": "B", "dx": -46.3, "dy": 14.4},
   "encoding": {
    "x": {"field": "x", "type": "quantitative", "scale": {"domain": [-5, 1], "nice": false, "zero": false}, "axis": {"values": [-4, -2, 0], "labelExpr": "'' + datum.value", "title": "log[μM]", "titleY": 19}},
    "y": {"field": "y", "type": "quantitative", "scale": {"domain": [-10, 80], "nice": false, "zero": false}, "axis": {"values": [0, 20, 40, 60, 80], "title": "% Inhibition", "titleX": -24}},
    "color": {"field": "s", "type": "nominal", "scale": {"domain": ["2 IC₅₀ = 0.6nM", "2a IC₅₀ = 30nM"], "range": ["#e443b2", "#e0507e"]},
     "legend": {"title": null, "legendX": 202, "legendY": 51, "rowPadding": 5.7,
      "encode": {"symbols": {"update": {"shape": {"signal": "['M-2.5,0L-1,0M1,0L2.5,0M-1,0A1,1 0 1,0 1,0A1,1 0 1,0 -1,0Z','M-2.5,0L2.5,0M-0.85,-0.85H0.85V0.85H-0.85Z'][datum.index]"}, "fill": {"signal": "['#e443b2','#e0507e'][datum.index]"}, "stroke": {"signal": "['#e443b2','#e0507e'][datum.index]"}, "opacity": {"value": 1}}},
       "labels": {"update": {"fill": {"signal": "['#e040a8','#e05078'][datum.index]"}}}}}}
   },
   "layer": [
    {"data": {"name": "zero"}, "mark": {"type": "rule", "strokeDash": [2, 2], "strokeWidth": 1}, "encoding": {"color": {"value": "#333"}}},
    {"data": {"name": "B_curve"}, "mark": {"type": "line", "interpolate": "monotone", "strokeWidth": 1.3}},
    {"data": {"name": "B_pts"}, "mark": {"type": "point", "filled": true, "size": 36, "opacity": 1}, "encoding": {"shape": {"field": "sh", "type": "nominal", "scale": {"domain": ["a", "b"], "range": ["circle", "square"]}, "legend": null}}}
   ]
  },
  {"width": 176, "height": 34, "data": {"name": "blank"}, "mark": {"type": "rule", "opacity": 0}, "encoding": {}},
  {"width": 177, "height": 34, "data": {"name": "blank"}, "mark": {"type": "rule", "opacity": 0}, "encoding": {}},
  {"width": 176, "height": 105, "title": {"text": "C", "dx": -37.3, "dy": -1.3},
   "encoding": {
    "x": {"field": "x", "type": "quantitative", "scale": {"domain": [2.3, 4.0], "nice": false, "zero": false}, "axis": {"values": [2.5, 3.0, 3.5, 4.0], "format": ".1f", "title": "log[nM]", "titleY": 21}},
    "y": {"field": "y", "type": "quantitative", "scale": {"domain": [0, 160], "nice": false, "zero": false}, "axis": {"values": [0, 50, 100, 150], "title": "Normalized p-c-Jun %", "titleX": -24}},
    "color": {"field": "s", "type": "nominal", "scale": {"domain": ["1 EC₅₀>10,000nM"], "range": ["#6f9ad8"]},
     "legend": {"title": null, "legendX": 198.5, "legendY": 52,
      "encode": {"symbols": {"update": {"shape": {"value": "M-2.5,0L-1,0M1,0L2.5,0M-1,0A1,1 0 1,0 1,0A1,1 0 1,0 -1,0Z"}, "fill": {"value": "#6f9ad8"}, "stroke": {"value": "#6f9ad8"}, "opacity": {"value": 1}}},
       "labels": {"update": {"fill": {"value": "#4a78b8"}}}}}}
   },
   "layer": [
    {"data": {"name": "C_curve"}, "mark": {"type": "line", "interpolate": "monotone", "strokeWidth": 1.3}},
    {"data": {"name": "C_err"}, "mark": {"type": "errorbar", "ticks": {"size": 6}, "thickness": 1.2}, "encoding": {"y2": {"field": "y2"}}},
    {"data": {"name": "C_pts"}, "mark": {"type": "point", "filled": true, "size": 40, "opacity": 1, "shape": "circle"}}
   ]
  },
  {"width": 177, "height": 105, "title": {"text": "D", "dx": -46.3, "dy": -1.3},
   "encoding": {
    "x": {"field": "x", "type": "quantitative", "scale": {"domain": [1, 4.0], "nice": false, "zero": false}, "axis": {"values": [1.5, 2.0, 2.5, 3.0, 3.5, 4.0], "format": ".1f", "title": "log[nM]", "titleY": 21}},
    "y": {"field": "y", "type": "quantitative", "scale": {"domain": [0, 160], "nice": false, "zero": false}, "axis": {"values": [0, 50, 100, 150], "title": "Normalized p-c-Jun %", "titleX": -24}},
    "color": {"field": "s", "type": "nominal", "scale": {"domain": ["2 EC₅₀<100nM"], "range": ["#e23fae"]},
     "legend": {"title": null, "legendX": 199.5, "legendY": 52,
      "encode": {"symbols": {"update": {"shape": {"value": "M-2.5,0L-1,0M1,0L2.5,0M-1,0A1,1 0 1,0 1,0A1,1 0 1,0 -1,0Z"}, "fill": {"value": "#e23fae"}, "stroke": {"value": "#e23fae"}, "opacity": {"value": 1}}},
       "labels": {"update": {"fill": {"value": "#e0309a"}}}}}}
   },
   "layer": [
    {"data": {"name": "D_curve"}, "mark": {"type": "line", "interpolate": "monotone", "strokeWidth": 1.3}},
    {"data": {"name": "D_err"}, "mark": {"type": "errorbar", "ticks": {"size": 6}, "thickness": 1.2}, "encoding": {"y2": {"field": "y2"}, "color": {"value": "#ea78c4"}}},
    {"data": {"name": "D_pts"}, "mark": {"type": "point", "filled": true, "size": 40, "opacity": 1, "shape": "circle"}}
   ]
  },
  {"width": 176, "height": 48, "data": {"name": "blank"}, "mark": {"type": "rule", "opacity": 0}, "encoding": {}},
  {"width": 177, "height": 48, "data": {"name": "blank"}, "mark": {"type": "rule", "opacity": 0}, "encoding": {}},
  {"width": 176, "height": 104, "title": {"text": "E", "dx": -37.3, "dy": 4.7},
   "encoding": {
    "x": {"field": "x", "type": "quantitative", "scale": {"domain": [1, 4.0], "nice": false, "zero": false}, "axis": {"values": [1.5, 2.0, 2.5, 3.0, 3.5, 4.0], "format": ".1f", "title": "log[nM]", "titleY": 20}},
    "y": {"field": "y", "type": "quantitative", "scale": {"domain": [0, 160], "nice": false, "zero": false}, "axis": {"values": [0, 50, 100, 150], "title": "Normalized p-c-Jun %", "titleX": -24}},
    "color": {"field": "s", "type": "nominal", "scale": {"domain": ["1a EC₅₀>900nM", "1b EC₅₀=380nM", "1d EC₅₀=1093nM", "1e EC₅₀>500nM", "1k EC₅₀=265nM"], "range": ["#1f7a55", "#a89ae6", "#7da3dc", "#1e22c8", "#68b6f6"]},
     "legend": {"title": null, "legendX": 198, "legendY": 4, "rowPadding": 11.3,
      "encode": {"symbols": {"update": {"shape": {"signal": "['M-2.5,0L2.5,0M0,-1.1L0.8,0L0,1.1L-0.8,0Z','M-2.5,0L2.5,0M-0.85,-0.85H0.85V0.85H-0.85Z','M-2.5,0L-1,0M1,0L2.5,0M-1,0A1,1 0 1,0 1,0A1,1 0 1,0 -1,0Z','M-2.5,0L2.5,0M0,-1.05L1.05,0.75L-1.05,0.75Z','M-2.5,0L2.5,0M0,1.05L1.05,-0.75L-1.05,-0.75Z'][datum.index]"}, "fill": {"signal": "['#1f7a55','#a89ae6','#7da3dc','#1e22c8','#68b6f6'][datum.index]"}, "stroke": {"signal": "['#1f7a55','#a89ae6','#7da3dc','#1e22c8','#68b6f6'][datum.index]"}, "opacity": {"value": 1}}},
       "labels": {"update": {"fill": {"signal": "['#1a6e4c','#b3a9ec','#5f86c4','#1a1ab4','#70b8f4'][datum.index]"}}}}}}
   },
   "layer": [
    {"data": {"name": "E_curve"}, "mark": {"type": "line", "interpolate": "monotone", "strokeWidth": 1.3}},
    {"data": {"name": "E_err"}, "transform": [{"filter": "datum.s == '1a EC₅₀>900nM'"}], "mark": {"type": "errorbar", "ticks": {"size": 6}, "thickness": 1.2}, "encoding": {"y2": {"field": "y2"}, "color": {"value": "#86b09c"}}},
    {"data": {"name": "E_err"}, "transform": [{"filter": "datum.s == '1b EC₅₀=380nM'"}], "mark": {"type": "errorbar", "ticks": {"size": 6}, "thickness": 1.2}, "encoding": {"y2": {"field": "y2"}, "color": {"value": "#c2b9f0"}}},
    {"data": {"name": "E_err"}, "transform": [{"filter": "datum.s == '1d EC₅₀=1093nM'"}], "mark": {"type": "errorbar", "ticks": {"size": 6}, "thickness": 1.2}, "encoding": {"y2": {"field": "y2"}, "color": {"value": "#a8c2ea"}}},
    {"data": {"name": "E_err"}, "transform": [{"filter": "datum.s == '1e EC₅₀>500nM'"}], "mark": {"type": "errorbar", "ticks": {"size": 6}, "thickness": 1.2}, "encoding": {"y2": {"field": "y2"}, "color": {"value": "#6a6ee0"}}},
    {"data": {"name": "E_err"}, "transform": [{"filter": "datum.s == '1k EC₅₀=265nM'"}], "mark": {"type": "errorbar", "ticks": {"size": 6}, "thickness": 1.2}, "encoding": {"y2": {"field": "y2"}, "color": {"value": "#a2d0fa"}}},
    {"data": {"name": "E_pts"}, "mark": {"type": "point", "filled": true, "size": 36, "opacity": 1}, "encoding": {"shape": {"field": "sh", "type": "nominal", "scale": {"domain": ["a", "b", "c", "d", "e"], "range": ["diamond", "square", "circle", "triangle-up", "triangle-down"]}, "legend": null}}}
   ]
  },
  {"width": 177, "height": 104, "title": {"text": "F", "dx": -46.3, "dy": 4.7},
   "encoding": {
    "x": {"field": "x", "type": "quantitative", "scale": {"domain": [2.3, 4.0], "nice": false, "zero": false}, "axis": {"values": [2.5, 3.0, 3.5, 4.0], "format": ".1f", "title": "log[nM]", "titleY": 20}},
    "y": {"field": "y", "type": "quantitative", "scale": {"domain": [0, 160], "nice": false, "zero": false}, "axis": {"values": [0, 50, 100, 150], "title": "Normalized p-c-Jun %", "titleX": -24}},
    "color": {"field": "s", "type": "nominal", "scale": {"domain": ["2a EC₅₀>10,000nM", "2b EC₅₀<3,000nM", "2c EC₅₀>5,000nM"], "range": ["#d9486f", "#8e2f6e", "#ee6cc2"]},
     "legend": {"title": null, "legendX": 197, "legendY": 18, "rowPadding": 15.8, "labelFontSize": 9.6,
      "encode": {"symbols": {"update": {"shape": {"signal": "['M-2.5,0L-1,0M1,0L2.5,0M-1,0A1,1 0 1,0 1,0A1,1 0 1,0 -1,0Z','M-2.5,0L2.5,0M0,-1.05L1.05,0.75L-1.05,0.75Z','M-2.5,0L2.5,0M-0.85,-0.85H0.85V0.85H-0.85Z'][datum.index]"}, "fill": {"signal": "['#d9486f','#8e2f6e','#ee6cc2'][datum.index]"}, "stroke": {"signal": "['#d9486f','#8e2f6e','#ee6cc2'][datum.index]"}, "opacity": {"value": 1}}},
       "labels": {"update": {"fill": {"signal": "['#d9486e','#8a2f6c','#ef78c8'][datum.index]"}}}}}}
   },
   "layer": [
    {"data": {"name": "F_curve"}, "mark": {"type": "line", "interpolate": "monotone", "strokeWidth": 1.3}},
    {"data": {"name": "F_err"}, "transform": [{"filter": "datum.s == '2a EC₅₀>10,000nM'"}], "mark": {"type": "errorbar", "ticks": {"size": 6}, "thickness": 1.2}, "encoding": {"y2": {"field": "y2"}, "color": {"value": "#ef9cb2"}}},
    {"data": {"name": "F_err"}, "transform": [{"filter": "datum.s == '2b EC₅₀<3,000nM'"}], "mark": {"type": "errorbar", "ticks": {"size": 6}, "thickness": 1.2}, "encoding": {"y2": {"field": "y2"}, "color": {"value": "#c08aac"}}},
    {"data": {"name": "F_err"}, "transform": [{"filter": "datum.s == '2c EC₅₀>5,000nM'"}], "mark": {"type": "errorbar", "ticks": {"size": 6}, "thickness": 1.2}, "encoding": {"y2": {"field": "y2"}, "color": {"value": "#f5a8d8"}}},
    {"data": {"name": "F_pts"}, "mark": {"type": "point", "filled": true, "size": 36, "opacity": 1}, "encoding": {"shape": {"field": "sh", "type": "nominal", "scale": {"domain": ["a", "b", "c"], "range": ["circle", "triangle-up", "square"]}, "legend": null}}}
   ]
  }
],
"columns": 2,
"spacing": {"row": 0, "column": 183},
"bounds": "flush",
"resolve": {"scale": {"x": "independent", "y": "independent", "color": "independent", "shape": "independent"}, "legend": {"color": "independent", "shape": "independent"}}
}
